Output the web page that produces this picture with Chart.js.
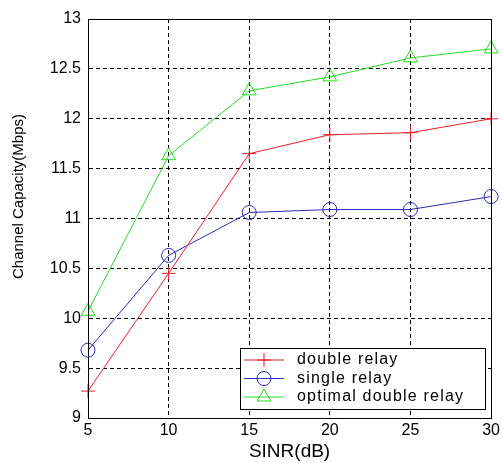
<!DOCTYPE html>
<html>
<head>
<meta charset="utf-8">
<script src="https://cdn.jsdelivr.net/npm/chart.js@4/dist/chart.umd.min.js"></script>
<style>
  html, body { margin: 0; padding: 0; background: #fff; }
  #wrap { width: 503px; height: 463px; }
</style>
</head>
<body>
<div id="wrap"><canvas id="capacityChart" width="503" height="463"></canvas></div>
<script>
// SINR values on the x axis (dB)
const sinr = [5, 10, 15, 20, 25, 30];

// Channel capacity (Mbps) for each scheme
const doubleRelay = [9.27, 10.45, 11.65, 11.84, 11.86, 12.00];
const singleRelay = [9.68, 10.63, 11.06, 11.09, 11.09, 11.22];
const optimalDoubleRelay = [10.07, 11.63, 12.28, 12.42, 12.61, 12.70];

const seriesLabels = ['double relay', 'single relay', 'optimal double relay'];
const yTitle = 'Channel Capacity(Mbps)';

const FONT = "'Liberation Sans', Arial, sans-serif";

// build {x, y} points from the arrays
function toPoints(values) {
  return sinr.map((x, i) => ({ x: x, y: values[i] }));
}

// draw a marker in the legend the same way Chart.js does for the series
function drawMarker(ctx, style, x, y, r) {
  ctx.beginPath();
  if (style === 'cross') {
    ctx.moveTo(x - r, y); ctx.lineTo(x + r, y);
    ctx.moveTo(x, y - r); ctx.lineTo(x, y + r);
  } else if (style === 'circle') {
    ctx.arc(x, y, r, 0, Math.PI * 2);
  } else if (style === 'triangle') {
    ctx.moveTo(x, y - r);
    ctx.lineTo(x + r * Math.sin(Math.PI * 2 / 3), y - r * Math.cos(Math.PI * 2 / 3));
    ctx.lineTo(x + r * Math.sin(Math.PI * 4 / 3), y - r * Math.cos(Math.PI * 4 / 3));
    ctx.closePath();
  }
  ctx.stroke();
}

// solid frame around the plot, y title and the boxed legend in the lower right
const frameAndLegend = {
  id: 'frameAndLegend',
  afterDraw(chart) {
    const ctx = chart.ctx;
    const area = chart.chartArea;
    ctx.save();
    ctx.strokeStyle = '#000';
    ctx.lineWidth = 1;
    ctx.setLineDash([]);
    ctx.strokeRect(Math.round(area.left) + 0.5, Math.round(area.top) + 0.5,
      Math.round(area.right - area.left), Math.round(area.bottom - area.top));

    // y axis title (sits a bit above the middle in the original)
    ctx.save();
    ctx.translate(19, (area.top + area.bottom) / 2 - 22);
    ctx.rotate(-Math.PI / 2);
    ctx.font = '15px ' + FONT;
    ctx.fillStyle = '#000';
    ctx.textAlign = 'center';
    ctx.textBaseline = 'middle';
    ctx.fillText(yTitle, 0, 0);
    ctx.restore();

    // legend box
    const boxW = 245, boxH = 61;
    const bx = Math.round(area.right) - 6 - boxW;
    const by = Math.round(area.bottom) - 9 - boxH;
    ctx.fillStyle = '#fff';
    ctx.fillRect(bx, by, boxW, boxH);
    ctx.strokeRect(bx + 0.5, by + 0.5, boxW, boxH);

    ctx.font = '16px ' + FONT;
    ctx.letterSpacing = '1.2px';
    ctx.textBaseline = 'middle';
    ctx.textAlign = 'left';
    chart.data.datasets.forEach((ds, i) => {
      const y = by + 12 + i * 18.5;
      ctx.strokeStyle = ds.borderColor;
      ctx.lineWidth = 1;
      ctx.beginPath();
      ctx.moveTo(bx + 4, y);
      ctx.lineTo(bx + 44, y);
      ctx.stroke();
      drawMarker(ctx, ds.pointStyle, bx + 24, y, ds.pointRadius);
      ctx.fillStyle = '#000';
      ctx.fillText(ds.label, bx + 57, y);
    });
    ctx.restore();
  }
};

const ctx = document.getElementById('capacityChart').getContext('2d');

new Chart(ctx, {
  type: 'line',
  data: {
    datasets: [
      {
        label: seriesLabels[0],
        data: toPoints(doubleRelay),
        borderColor: '#e8202a',
        borderWidth: 1,
        pointStyle: 'cross',
        pointRadius: 7,
        pointBorderWidth: 1,
        pointBorderColor: '#e8202a',
        pointBackgroundColor: 'rgba(0,0,0,0)',
        tension: 0,
        clip: false
      },
      {
        label: seriesLabels[1],
        data: toPoints(singleRelay),
        borderColor: '#2a2ab8',
        borderWidth: 1,
        pointStyle: 'circle',
        pointRadius: 7,
        pointBorderWidth: 1,
        pointBorderColor: '#2a2ab8',
        pointBackgroundColor: 'rgba(0,0,0,0)',
        tension: 0,
        clip: false
      },
      {
        label: seriesLabels[2],
        data: toPoints(optimalDoubleRelay),
        borderColor: '#22dd22',
        borderWidth: 1,
        pointStyle: 'triangle',
        pointRadius: 8,
        pointBorderWidth: 1,
        pointBorderColor: '#22dd22',
        pointBackgroundColor: 'rgba(0,0,0,0)',
        tension: 0,
        clip: false
      }
    ]
  },
  options: {
    responsive: false,
    animation: false,
    events: [],
    layout: { padding: { left: 0, right: 11, top: 19, bottom: 0 } },
    plugins: {
      legend: { display: false },
      tooltip: { enabled: false }
    },
    scales: {
      x: {
        type: 'linear',
        min: 5,
        max: 30,
        afterFit(scale) { scale.height = 45; },
        ticks: {
          stepSize: 5,
          padding: 3,
          color: '#000',
          font: { family: FONT, size: 16 }
        },
        grid: { color: '#000', lineWidth: 1, drawTicks: false },
        border: { display: true, color: '#000', dash: [4, 3] },
        title: {
          display: true,
          text: 'SINR(dB)',
          color: '#000',
          font: { family: FONT, size: 19 },
          padding: { top: 0, bottom: 0 }
        }
      },
      y: {
        min: 9,
        max: 13,
        afterFit(scale) { scale.width = 88; },
        ticks: {
          stepSize: 0.5,
          padding: 7,
          color: '#000',
          font: { family: FONT, size: 16 },
          callback: (v) => String(Math.round(v * 10) / 10)
        },
        grid: { color: '#000', lineWidth: 1, drawTicks: false },
        border: { display: true, color: '#000', dash: [4, 3] }
      }
    }
  },
  plugins: [frameAndLegend]
});
</script>
</body>
</html>
